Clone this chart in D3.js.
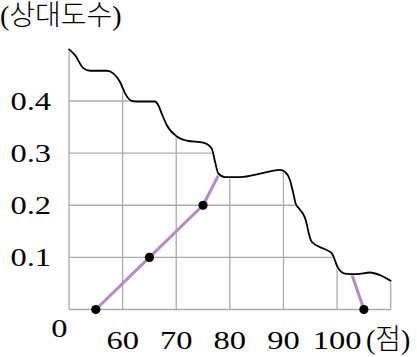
<!DOCTYPE html>
<html>
<head>
<meta charset="utf-8">
<script src="https://cdn.jsdelivr.net/npm/d3@7"></script>
<style>
  html, body { margin: 0; padding: 0; background: #fff; }
  svg { display: block; }
  text { font-family: "Liberation Serif", "Noto Sans CJK KR", serif; fill: #000; }
  .kr { font-weight: 300; }
</style>
</head>
<body>
<svg id="chart" width="417" height="357"></svg>
<script>
// ---- data ----
const classMarks = [55, 65, 75, 85, 95, 105];          // class midpoints (점)
const relFreq    = [0, 0.1, 0.2, 0.4, 0.3, 0];          // 상대도수
const visibleMarks = 3;                                  // points 0..2 and last are drawn as dots
const xTicks = [60, 70, 80, 90, 100];
const xGrid  = [50, 60, 70, 80, 90, 100, 110];
const yTicks = [0.1, 0.2, 0.3, 0.4];
const yTickLabels = ["0.1", "0.2", "0.3", "0.4"];
// torn paper edge (data units: 점, 상대도수)
const tearX = [50, 51.12, 52.67, 53.92, 57.03, 58.26, 59.51, 60.44, 61.69, 63.24, 66.04, 66.65, 67.29, 68.22,
               70.09, 71.95, 75.05, 76.61, 77.23, 77.84, 79.09, 81.89, 86.24, 89.35, 90.28, 91.22, 91.83,
               92.25, 92.8, 93.5, 94.2, 94.63, 95.26, 97.43, 98.99, 100.22, 101.47, 103.65, 106.14, 108.0, 110];
const tearY = [0.499, 0.488, 0.463, 0.458, 0.458, 0.453, 0.437, 0.415, 0.400, 0.399, 0.399, 0.392, 0.376, 0.354,
               0.332, 0.324, 0.320, 0.309, 0.284, 0.261, 0.254, 0.254, 0.262, 0.268, 0.264, 0.248, 0.223,
               0.204, 0.195, 0.186, 0.170, 0.150, 0.130, 0.117, 0.108, 0.079, 0.069, 0.068, 0.071, 0.066, 0.055];

// ---- scales ----
const x = d3.scaleLinear().domain([50, 110]).range([69, 390.7]);
const y = d3.scaleLinear().domain([0, 0.4]).range([309.5, 101]);

const svg = d3.select("#chart");
const gridColor = "#ababab";
const purple = "#b38bc9";

// grid
const g = svg.append("g");
g.selectAll("line.v").data(xGrid).join("line")
  .attr("x1", d => x(d)).attr("x2", d => x(d))
  .attr("y1", y(0)).attr("y2", y(0.55))
  .attr("stroke", gridColor).attr("stroke-width", 1.3);
g.selectAll("line.h").data([0].concat(yTicks)).join("line")
  .attr("x1", x(50)).attr("x2", x(110))
  .attr("y1", d => y(d)).attr("y2", d => y(d))
  .attr("stroke", gridColor).attr("stroke-width", 1.3);

// polygon
const pts = classMarks.map((m, i) => [m, relFreq[i]]);
svg.append("path")
  .attr("d", d3.line().x(d => x(d[0])).y(d => y(d[1]))(pts))
  .attr("fill", "none").attr("stroke", purple).attr("stroke-width", 3)
  .attr("stroke-linejoin", "round");
svg.selectAll("circle.dot").data(pts.filter((d, i) => i < visibleMarks || i === pts.length - 1)).join("circle")
  .attr("cx", d => x(d[0])).attr("cy", d => y(d[1])).attr("r", 4.6).attr("fill", "#000");

// torn paper mask
const tear = tearX.map((v, i) => [v, tearY[i]]);
const tearCurve = d3.curveMonotoneX;
svg.append("path")
  .attr("d", d3.area().x(d => x(d[0])).y0(0).y1(d => y(d[1])).curve(tearCurve)(tear))
  .attr("fill", "#fff").attr("stroke", "#fff").attr("stroke-width", 3);
svg.append("path")
  .attr("d", d3.line().x(d => x(d[0])).y(d => y(d[1])).curve(tearCurve)(tear))
  .attr("fill", "none").attr("stroke", "#000").attr("stroke-width", 1.8).attr("stroke-linecap", "round");

// labels
const sx = 1.25;
function stretched(sel, px, py, anchor) {
  sel.attr("transform", `translate(${px},${py}) scale(${sx},1)`).attr("text-anchor", anchor);
}
svg.selectAll("text.yt").data(yTicks).join("text")
  .attr("font-size", 26)
  .each(function(d, i) { stretched(d3.select(this), 51, y(d) + 9, "end"); })
  .text((d, i) => yTickLabels[i]);
svg.selectAll("text.xt").data(xTicks).join("text")
  .attr("font-size", 26)
  .each(function(d) { stretched(d3.select(this), x(d), 349, "middle"); })
  .text(d => d);
svg.append("text").attr("font-size", 26)
  .call(s => stretched(s, 59.5, 337, "middle")).text("0");
svg.append("text").attr("class", "kr").attr("font-size", 28).attr("x", 366).attr("y", 349).text("(점)");
svg.append("text").attr("class", "kr").attr("font-size", 28).attr("x", 0).attr("y", 25).text("(상대도수)");
</script>
</body>
</html>
